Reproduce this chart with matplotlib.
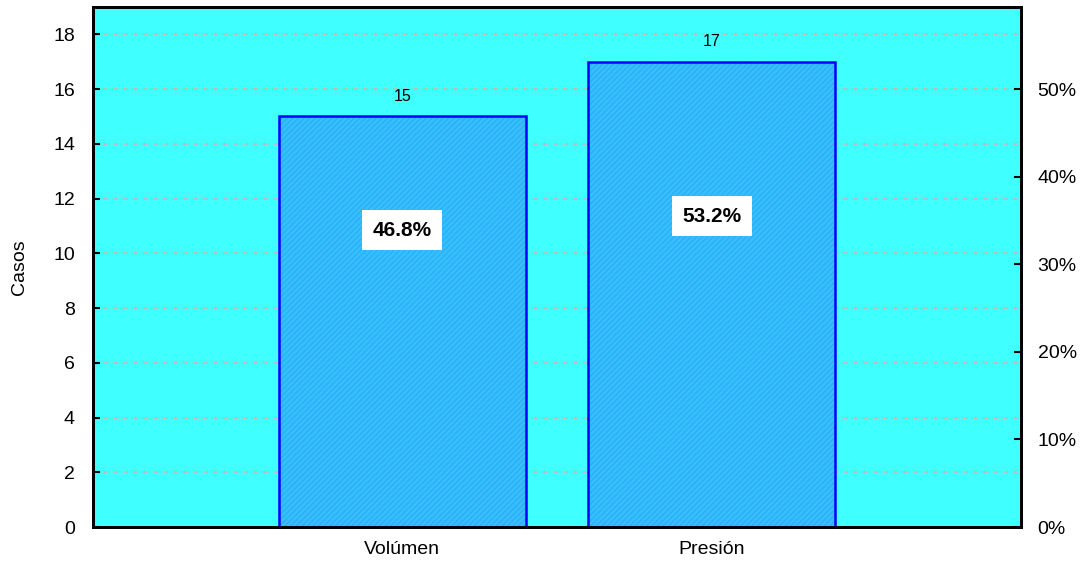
import matplotlib
matplotlib.use("Agg")
import matplotlib.pyplot as plt
from matplotlib.ticker import FixedLocator

plt.rcParams['font.family'] = ['Liberation Sans', 'DejaVu Sans']
plt.rcParams['hatch.linewidth'] = 0.7

categories = ["Volúmen", "Presión"]
counts = [15, 17]
pct_labels = ["46.8%", "53.2%"]
pct_label_y = [10.85, 11.35]
total = 32

fig = plt.figure(figsize=(10.87, 5.67), dpi=100)
ax = fig.add_axes([93/1087, 40/567, 928/1087, 520/567])
ax.set_facecolor('#40FFFF')

x = list(range(len(categories)))
# fill with a faint diagonal texture, then the blue outline on top
ax.bar(x, counts, width=0.8, color='#36BEFF', edgecolor='#2AAAF0',
       linewidth=0, hatch='//////', zorder=3)
ax.bar(x, counts, width=0.8, facecolor='none', edgecolor='#0000FF',
       linewidth=1.8, zorder=4)

for xi, c in zip(x, counts):
    ax.text(xi, c + 0.45, str(c), ha='center', va='bottom', fontsize=11.5, zorder=5)
for xi, lbl, yy in zip(x, pct_labels, pct_label_y):
    ax.text(xi, yy, lbl, ha='center', va='center', fontsize=15, fontweight='bold',
            zorder=5,
            bbox=dict(boxstyle='square,pad=0.5', facecolor='white', edgecolor='none'))

ax.set_xlim(-1, 2)
ax.set_ylim(0, 19)
ax.set_yticks(range(0, 19, 2))
ax.set_xticks(x)
ax.set_xticklabels(categories)
ax.tick_params(axis='y', direction='in', length=5, width=1.5, labelsize=14, pad=13)
ax.tick_params(axis='x', length=0, labelsize=14, pad=10)
ax.yaxis.grid(True, linestyle=(0, (3, 3)), color='#C8B8B8', linewidth=1.2, zorder=1)
ax.set_axisbelow(True)
ax.set_ylabel("Casos", fontsize=14, labelpad=18)
for s in ax.spines.values():
    s.set_linewidth(2)

ax2 = ax.twinx()
ax2.set_ylim(0, 19 / total * 100)
ax2.yaxis.set_major_locator(FixedLocator([0, 10, 20, 30, 40, 50]))
ax2.set_yticklabels([f"{v}%" for v in [0, 10, 20, 30, 40, 50]])
ax2.tick_params(axis='y', direction='in', length=5, width=1.5, labelsize=14, pad=12)
for s in ax2.spines.values():
    s.set_linewidth(2)

fig.savefig("out.png", dpi=100)
